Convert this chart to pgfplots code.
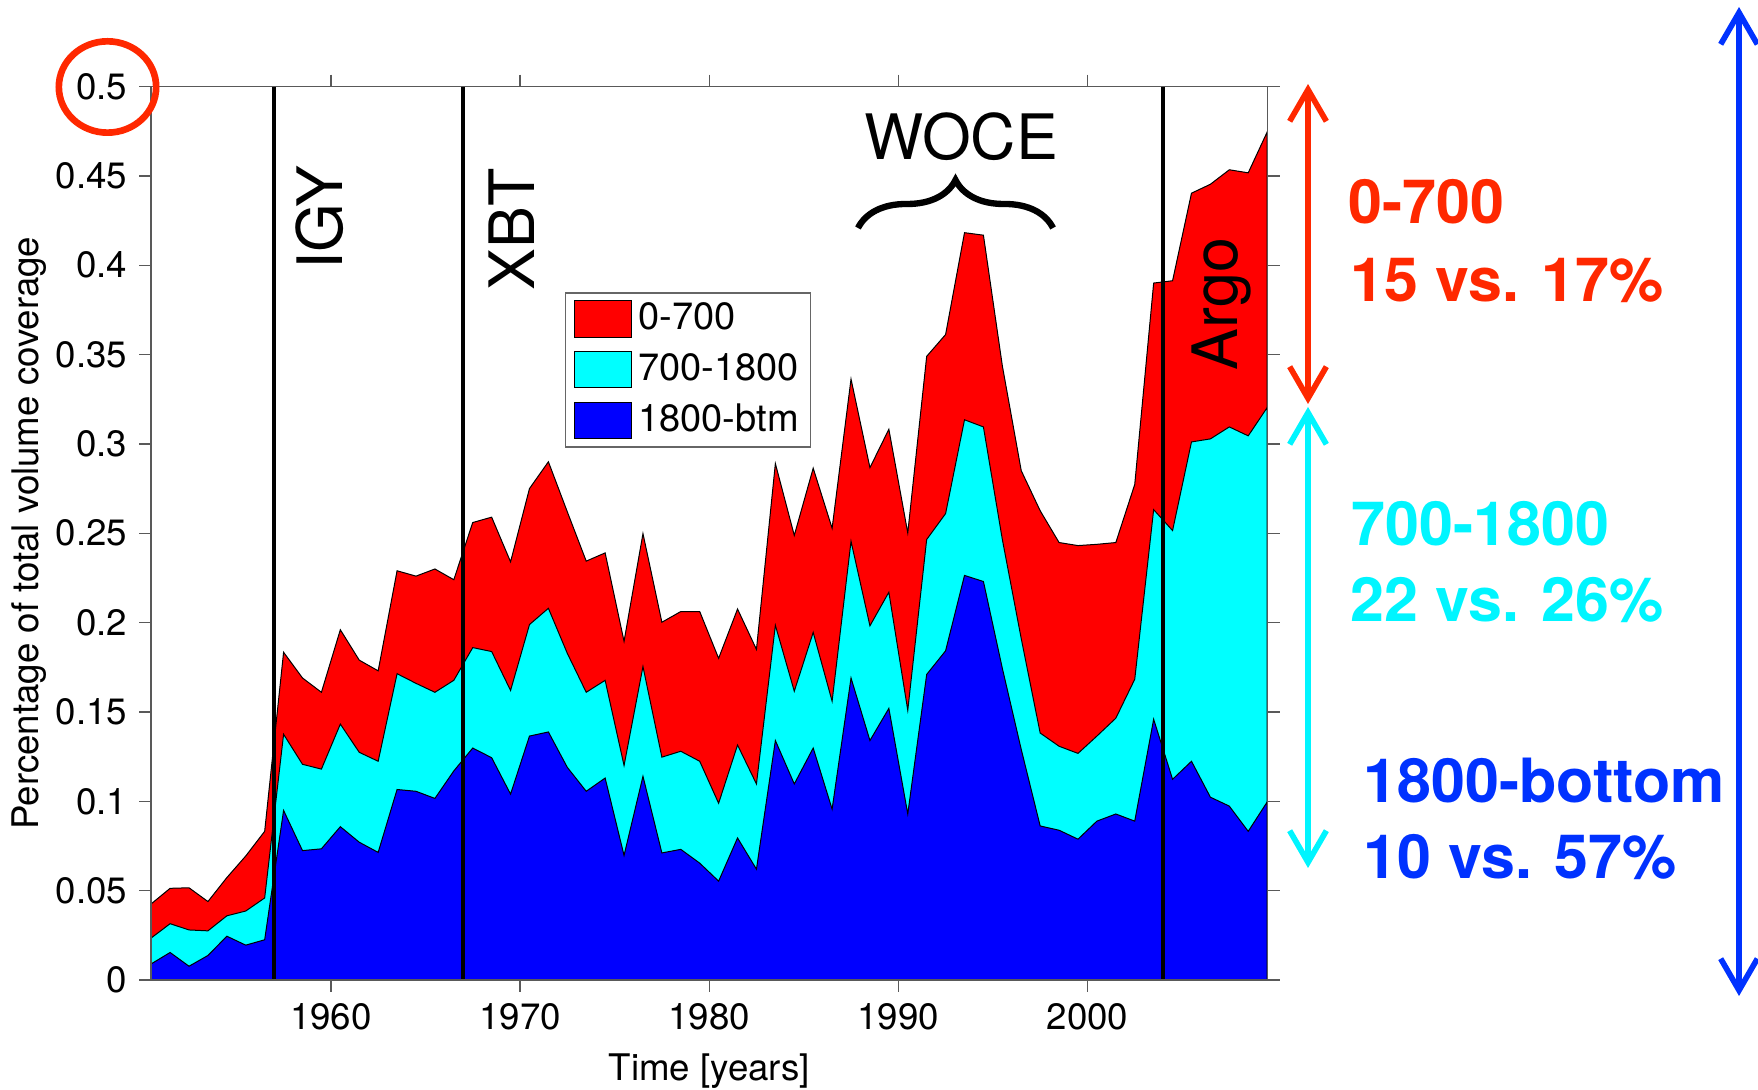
\documentclass[border=0pt]{standalone}
\usepackage{fontspec}
\setmainfont{TeX Gyre Heros}
\usepackage{pgfplots}
\pgfplotsset{compat=1.18}
\usepackage{pgfplotstable}
\usetikzlibrary{arrows.meta,decorations.pathreplacing}
\definecolor{annred}{RGB}{255,40,0}
\definecolor{anncyan}{RGB}{0,245,255}
\definecolor{annblue}{RGB}{0,50,255}
\definecolor{dred}{RGB}{255,0,0}
\definecolor{dcyan}{RGB}{0,255,255}
\definecolor{dblue}{RGB}{0,0,255}

\pgfplotstableread{
x      r       c       b
1950.5 0.0426  0.0235  0.0090
1951.5 0.0513  0.0315  0.0154
1952.5 0.0516  0.0280  0.0077
1953.5 0.0439  0.0275  0.0137
1954.5 0.0573  0.0359  0.0245
1955.5 0.0694  0.0386  0.0195
1956.5 0.0832  0.0459  0.0225
1957.5 0.1834  0.1375  0.0949
1958.5 0.1690  0.1207  0.0724
1959.5 0.1610  0.1180  0.0734
1960.5 0.1960  0.1432  0.0858
1961.5 0.1790  0.1274  0.0771
1962.5 0.1730  0.1224  0.0714
1963.5 0.2290  0.1714  0.1066
1964.5 0.2260  0.1660  0.1056
1965.5 0.2300  0.1610  0.1016
1966.5 0.2240  0.1677  0.1170
1967.5 0.2560  0.1860  0.1298
1968.5 0.2590  0.1838  0.1244
1969.5 0.2340  0.1620  0.1040
1970.5 0.2750  0.1989  0.1365
1971.5 0.2900  0.2080  0.1388
1972.5 0.2620  0.1828  0.1190
1973.5 0.2344  0.1610  0.1056
1974.5 0.2390  0.1677  0.1130
1975.5 0.1895  0.1200  0.0697
1976.5 0.2498  0.1754  0.1140
1977.5 0.2002  0.1247  0.0711
1978.5 0.2062  0.1280  0.0731
1979.5 0.2062  0.1224  0.0654
1980.5 0.1800  0.0989  0.0553
1981.5 0.2076  0.1315  0.0795
1982.5 0.1850  0.1097  0.0620
1983.5 0.2890  0.1985  0.1340
1984.5 0.2488  0.1616  0.1097
1985.5 0.2864  0.1945  0.1298
1986.5 0.2528  0.1560  0.0956
1987.5 0.3363  0.2455  0.1690
1988.5 0.2867  0.1982  0.1340
1989.5 0.3082  0.2170  0.1520
1990.5 0.2502  0.1509  0.0929
1991.5 0.3490  0.2465  0.1710
1992.5 0.3612  0.2610  0.1842
1993.5 0.4182  0.3135  0.2264
1994.5 0.4168  0.3095  0.2230
1995.5 0.3437  0.2465  0.1744
1996.5 0.2850  0.1910  0.1290
1997.5 0.2626  0.1382  0.0862
1998.5 0.2448  0.1308  0.0838
1999.5 0.2431  0.1268  0.0788
2000.5 0.2438  0.1365  0.0889
2001.5 0.2448  0.1465  0.0929
2002.5 0.2773  0.1683  0.0889
2003.5 0.3900  0.2632  0.1459
2004.5 0.3913  0.2515  0.1123
2005.5 0.4403  0.3011  0.1224
2006.5 0.4453  0.3028  0.1023
2007.5 0.4534  0.3095  0.0973
2008.5 0.4517  0.3045  0.0832
2009.5 0.4745  0.3203  0.0996
}\data

\pgfplotsset{area legend/.style={legend image code/.code={\draw[##1] (0pt,-5.5pt) rectangle (17pt,5.5pt);}}}

\begin{document}
\begin{tikzpicture}
\begin{axis}[
  at={(0,0)}, anchor=south west,
  scale only axis, width=334.95pt, height=268.05pt,
  xmin=1950.49, xmax=2009.52, ymin=0, ymax=0.5,
  xtick={1960,1970,1980,1990,2000},
  ytick={0,0.05,0.1,0.15,0.2,0.25,0.3,0.35,0.4,0.45,0.5},
  xtick pos=both, ytick pos=both,
  xticklabel pos=bottom, yticklabel pos=left,
  scaled y ticks=false,
  /pgf/number format/assume math mode=true,
  yticklabel style={/pgf/number format/fixed, /pgf/number format/precision=2},
  xticklabel style={/pgf/number format/1000 sep={}},
  tick align=outside, major tick length=3.6pt,
  axis line style={black!65, line width=0.4pt},
  tick style={black!65, line width=0.4pt},
  tick label style={font=\fontsize{11}{13}\selectfont},
  label style={font=\fontsize{11}{13}\selectfont},
  xlabel={Time [years]},
  ylabel={Percentage of total volume coverage},
  xlabel style={yshift=-0.2pt},
  ylabel style={yshift=-4.2pt},
  axis on top,
  legend cell align=left,
  legend image code/.code={\draw[#1] (0pt,-5.5pt) rectangle (17pt,5.5pt);},
  legend style={at={(0.3708,0.7697)}, anchor=north west, draw=black!60,
    line width=0.4pt, fill=white, inner xsep=2.5pt, inner ysep=2pt,
    row sep=3.6pt, column sep=1pt, nodes={inner sep=1pt},
    font=\fontsize{11.4}{13}\selectfont},
]
\addplot[fill=dred, draw=black, line width=0.3pt] table[x=x,y=r]{\data} \closedcycle;
\addlegendentry{0-700}
\addplot[fill=dcyan, draw=black, line width=0.3pt] table[x=x,y=c]{\data} \closedcycle;
\addlegendentry{700-1800}
\addplot[fill=dblue, draw=black, line width=0.3pt] table[x=x,y=b]{\data} \closedcycle;
\addlegendentry{1800-btm}
\draw[black, line width=1.1pt] (1957,0) -- (1957,0.5);
\draw[black, line width=1.1pt] (1967,0) -- (1967,0.5);
\draw[black, line width=1.1pt] (2004,0) -- (2004,0.5);
\end{axis}
\begin{scope}[x=0.3pt,y=-0.3pt,xshift=-45.3pt,yshift=294pt]
  \tikzset{big/.style={font=\fontsize{18.8}{22}\selectfont, inner sep=0pt},
           ann/.style={font=\fontsize{18.3}{22}\selectfont\bfseries, inner sep=0pt, anchor=base west},
           dbl/.style={line width=1.7pt, {Straight Barb[length=9.5pt,width=11pt,line width=1.7pt]}-{Straight Barb[length=9.5pt,width=11pt,line width=1.7pt]}}}
  \node[big, rotate=90, anchor=base] at (342,217.5) {IGY};
  \node[big, rotate=90, anchor=base] at (534,229.5) {XBT};
  \node[big, rotate=90, anchor=base] at (1237,304) {Argo};
  \node[big, anchor=base] at (961,160) {WOCE};
  \draw[line width=1.9pt, decorate, decoration={brace, amplitude=14.4pt, aspect=0.5}] (858,228) -- (1053,228);
  \draw[annred, line width=2pt] (107.5,87) ellipse [x radius=14.6pt, y radius=13.7pt];
  \draw[annred, dbl] (1308,84) -- (1308,404);
  \draw[anncyan, dbl] (1308,407) -- (1308,868);
  \draw[annblue, dbl] (1739,7) -- (1739,996);
  \node[ann, annred] at (1348,224) {0-700};
  \node[ann, annred] at (1350,302) {15 vs. 17\%};
  \node[ann, anncyan] at (1351,545.5) {700-1800};
  \node[ann, anncyan] at (1350,622) {22 vs. 26\%};
  \node[ann, annblue] at (1363,802.5) {1800-bottom};
  \node[ann, annblue] at (1363,879) {10 vs. 57\%};
  \pgfresetboundingbox
  \path (0,0) rectangle (1758,1089);
\end{scope}
\end{tikzpicture}
\end{document}
